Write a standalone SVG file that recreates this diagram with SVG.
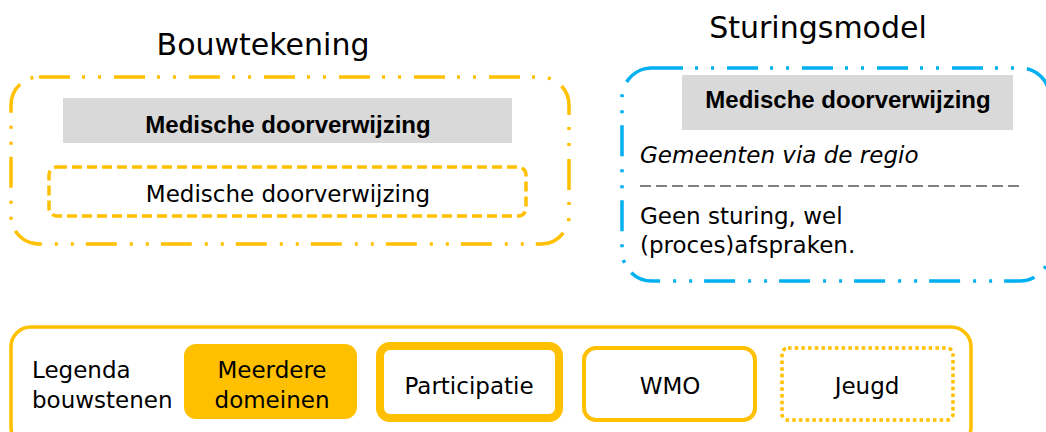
<svg xmlns="http://www.w3.org/2000/svg" width="1046" height="432" viewBox="0 0 1046 432">
<style>
text{font-family:"DejaVu Sans","Liberation Sans",sans-serif;fill:#000}
.t{font-size:30px}
.n{font-size:23px}
.b{font-family:"Liberation Sans","DejaVu Sans",sans-serif;font-size:24px;font-weight:bold}
.gray{fill:#d9d9d9}
.o{fill:none;stroke:#ffc000;stroke-width:3.5}
.ddd{stroke-dasharray:31 12 3 13 3 13}
.bl{fill:none;stroke:#00b0f0;stroke-width:3.5}
</style>
<g id="bouwtekening">
<text class="t" x="263" y="55" text-anchor="middle">Bouwtekening</text>
<rect class="o ddd" x="11" y="77" width="558" height="167" rx="28"/>
<rect class="gray" x="63" y="98" width="449" height="45"/>
<text class="b" x="288" y="133" text-anchor="middle">Medische doorverwijzing</text>
<rect class="o" stroke-dasharray="10 5" x="49" y="167" width="477" height="49" rx="8"/>
<text class="n" x="288" y="202" text-anchor="middle">Medische doorverwijzing</text>
</g>
<g id="sturingsmodel">
<text class="t" x="818" y="38" text-anchor="middle">Sturingsmodel</text>
<rect class="bl ddd" x="622" y="68" width="428" height="213" rx="30"/>
<rect class="gray" x="682" y="75" width="331" height="55"/>
<text class="b" x="848" y="108" text-anchor="middle">Medische doorverwijzing</text>
<text class="n" x="640" y="163" font-style="italic">Gemeenten via de regio</text>
<line x1="640" y1="186" x2="1023" y2="186" stroke="#000" stroke-width="1" stroke-dasharray="11 5"/>
<text class="n" x="640" y="224">Geen sturing, wel</text>
<text class="n" x="640" y="253">(proces)afspraken.</text>
</g>
<g id="legenda">
<rect class="o" x="11" y="327" width="960" height="120" rx="20"/>
<text class="n" x="32" y="378">Legenda</text>
<text class="n" x="32" y="408">bouwstenen</text>
</g>
<g id="meerdere">
<rect x="184" y="344" width="173" height="75" rx="12" fill="#ffc000"/>
<text class="n" x="272" y="378" text-anchor="middle">Meerdere</text>
<text class="n" x="272" y="408" text-anchor="middle">domeinen</text>
</g>
<g id="participatie">
<rect x="380" y="346" width="179" height="72" rx="10" fill="none" stroke="#ffc000" stroke-width="8"/>
<text class="n" x="469" y="394" text-anchor="middle">Participatie</text>
</g>
<g id="wmo">
<rect x="584" y="348" width="171" height="72" rx="12" fill="none" stroke="#ffc000" stroke-width="4"/>
<text class="n" x="670" y="394" text-anchor="middle">WMO</text>
</g>
<g id="jeugd">
<rect x="782" y="348" width="171" height="72" rx="6" fill="none" stroke="#ffc000" stroke-width="3.5" stroke-dasharray="3.5 3.2"/>
<text class="n" x="867" y="394" text-anchor="middle">Jeugd</text>
</g>
</svg>
